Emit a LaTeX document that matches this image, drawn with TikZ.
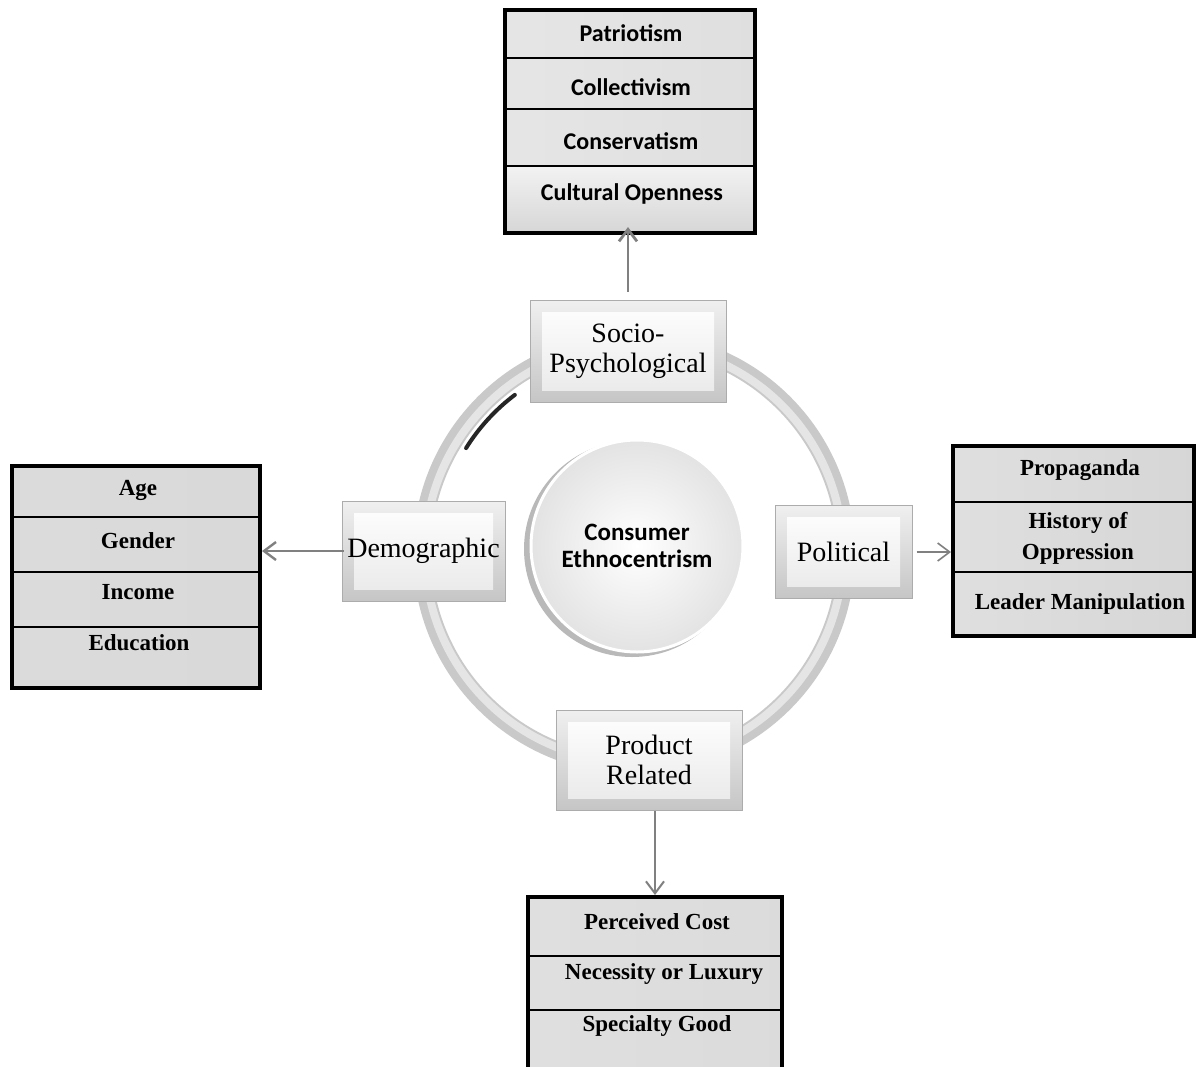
\documentclass[tikz,border=0pt]{standalone}
\usepackage{fontspec}
\setmainfont{Liberation Serif}
\newfontfamily\carlito{Carlito}
\usetikzlibrary{arrows.meta}
\begin{document}
\begin{tikzpicture}[x=0.5pt,y=-0.5pt,
  bevel/.style={rectangle, inner sep=0pt, draw=gray!65, line width=0.5pt,
    top color=gray!12, bottom color=gray!45,
    font=\fontsize{14}{15}\selectfont, align=center,
    path picture={\shade[top color=white, bottom color=gray!18]
      ([shift={(6pt,-6pt)}]path picture bounding box.north west) rectangle
      ([shift={(-6pt,6pt)}]path picture bounding box.south east);}},
  listbox/.style={rectangle, draw=black, line width=2pt, inner sep=0pt},
  rowline/.style={black, line width=0.8pt},
  sanslbl/.style={font=\carlito\bfseries\fontsize{12}{14}\selectfont, inner sep=0pt},
  seriflbl/.style={font=\bfseries\fontsize{11.5}{15.5}\selectfont, inner sep=0pt, align=center},
  arr/.style={gray, line width=1pt, -{Straight Barb[length=6pt,width=9pt]}}
]
\clip (0,0) rectangle (1196,1067);
\fill[white] (0,0) rectangle (1196,1067);

% ring
\draw[line width=9pt, gray!42] (634,553) circle[radius=212];
\draw[line width=4pt, gray!20] (634,553) circle[radius=209];
\draw[line width=2pt, black!85, line cap=round] (634,553) ++(212:198) arc[start angle=212, end angle=233, radius=198];

% central circle
\fill[gray!55] (632,549) circle[radius=108];
\node[circle, minimum size=106pt, inner sep=0pt, inner color=white, outer color=gray!22, draw=white, line width=1.5pt,
  font=\carlito\bfseries\fontsize{12.5}{13.5}\selectfont, align=center] (core) at (637,546) {Consumer\\Ethnocentrism};

% bevel nodes
\node[bevel, minimum width=98pt, minimum height=51pt] (socio) at (628,351) {Socio-\\Psychological};
\node[bevel, minimum width=81.5pt, minimum height=50pt] (demo) at (423.5,551) {Demographic};
\node[bevel, minimum width=68.5pt, minimum height=46.5pt] (pol) at (843.5,552) {Political};
\node[bevel, minimum width=93pt, minimum height=50pt] (prod) at (649,760) {Product\\Related};

% top list box
\shade[left color=gray!20, middle color=gray!8, right color=gray!25] (505,10) rectangle (755,166);
\shade[top color=gray!10, bottom color=gray!32] (505,166) rectangle (755,233);
\draw[rowline] (505,58) -- (755,58) (505,109) -- (755,109) (505,166) -- (755,166);
\node[listbox, minimum width=125pt, minimum height=111.5pt] (topbox) at (630,121.5) {};
\node[sanslbl] (t1) at (631,33) {Patriotism};
\node[sanslbl] (t2) at (631,87) {Collectivism};
\node[sanslbl] (t3) at (631,141) {Conservatism};
\node[sanslbl] (t4) at (632,194) {Cultural Openness};

% left list box
\shade[left color=gray!28, middle color=gray!10, right color=gray!30] (12,466) rectangle (260,688);
\draw[rowline] (12,517) -- (260,517) (12,572) -- (260,572) (12,627) -- (260,627);
\node[listbox, minimum width=124pt, minimum height=111pt] (leftbox) at (136,577) {};
\node[seriflbl] (l1) at (138,490) {Age};
\node[seriflbl] (l2) at (138,541) {Gender};
\node[seriflbl] (l3) at (138,592) {Income};
\node[seriflbl] (l4) at (139,643) {Education};

% right list box
\shade[left color=gray!25, middle color=gray!10, right color=gray!32] (953,446) rectangle (1194,636);
\draw[rowline] (953,502) -- (1194,502) (953,572) -- (1194,572);
\node[listbox, minimum width=120.5pt, minimum height=95pt] (rightbox) at (1073.5,541) {};
\node[seriflbl] (r1) at (1080,470) {Propaganda};
\node[seriflbl] (r2) at (1078,538) {History of\\Oppression};
\node[seriflbl] (r3) at (1080,604) {Leader Manipulation};

% bottom list box
\shade[left color=gray!25, middle color=gray!10, right color=gray!28] (528,897) rectangle (782,1075);
\draw[rowline] (528,956) -- (782,956) (528,1010) -- (782,1010);
\node[listbox, minimum width=127pt, minimum height=89pt] (botbox) at (655,986) {};
\node[seriflbl] (b1) at (657,922) {Perceived Cost};
\node[seriflbl] (b2) at (664,974) {Necessity or Luxury};
\node[seriflbl] (b3) at (657,1026) {Specialty Good};

% connectors
\draw[arr, line width=1.4pt] ([yshift=4pt]socio.north) -- ([yshift=4pt]socio.north |- topbox.south);
\draw[arr, line width=1.2pt] ([xshift=1pt]demo.west) -- (demo.west -| leftbox.east);
\draw[arr, line width=0.8pt] ([xshift=2pt]pol.east) -- (pol.east -| rightbox.west);
\draw[arr] ([xshift=3pt]prod.south) -- ([xshift=3pt]prod.south |- botbox.north);
\end{tikzpicture}
\end{document}
